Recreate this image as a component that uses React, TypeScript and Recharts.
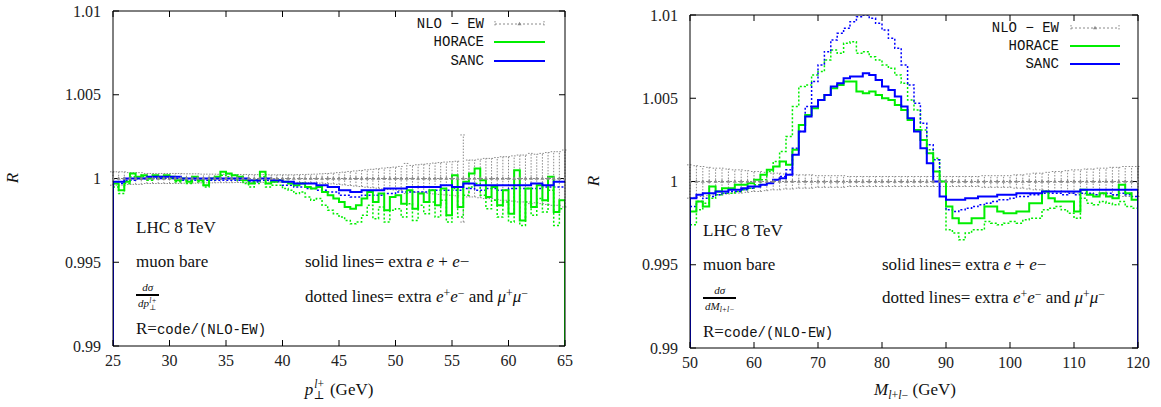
import React from 'react';
import { LineChart, Line, XAxis, YAxis, ErrorBar } from 'recharts';

const SERIF = '"Liberation Serif", "DejaVu Serif", serif';
const MONO = '"Liberation Mono", "DejaVu Sans Mono", monospace';
const GREEN = '#00ee00';
const BLUE = '#0000ff';
const GREY = '#8a8a8a';

const Y_TICKS = [0.99, 0.995, 1, 1.005, 1.01];
const Y_TICK_LABELS = ['0.99', '0.995', '1', '1.005', '1.01'];
const PT_TICKS = [25, 30, 35, 40, 45, 50, 55, 60, 65];
const M_TICKS = [50, 60, 70, 80, 90, 100, 110, 120];

// ---------- left panel: p_T(l+) ----------
const PT_START = 25;
const PT_FINE = 0.5;
const PT_COARSE = 1;
const ptHoraceSolid = [
  0.9997, 0.9993, 0.9998, 1.0003, 1.0001, 1.0002, 1.0000, 1.0002, 1.0001, 1.0002,
  1.0001, 0.9999, 1.0000, 0.9998, 1.0001, 0.9999, 0.9996, 1.0000, 1.0001, 1.0004,
  1.0003, 1.0002, 1.0001, 0.9999, 0.9997, 0.9999, 1.0004, 0.9997, 0.9998, 0.9999,
  0.9998, 0.9997, 0.9996, 0.9997, 0.9995, 0.9994, 0.9995, 0.9992, 0.9990, 0.9988,
  0.9986, 0.9983, 0.9982, 0.9984, 0.9988, 0.9992, 0.9986, 0.9991, 0.9981, 0.9989,
  0.9990, 0.9985, 0.9993, 0.9982, 0.9991, 0.9986, 0.9993, 0.9984, 0.9994, 0.9978,
  1.0002, 0.9983, 0.9998, 1.0003, 1.0006, 0.9999, 0.9989, 0.9995, 0.9984, 0.9993,
  0.9979, 1.0005, 0.9975, 0.9994, 0.9983, 0.9996, 0.9987, 1.0001, 0.9980, 0.9987,
];
const ptHoraceDotted = [
  0.9995, 0.9991, 0.9997, 1.0001, 1.0000, 1.0001, 0.9999, 1.0001, 1.0000, 1.0001,
  1.0000, 0.9998, 0.9999, 0.9997, 1.0000, 0.9998, 0.9995, 0.9999, 1.0000, 1.0002,
  1.0001, 1.0000, 0.9999, 0.9997, 0.9995, 0.9997, 1.0001, 0.9995, 0.9996, 0.9996,
  0.9994, 0.9993, 0.9991, 0.9992, 0.9989, 0.9987, 0.9988, 0.9984, 0.9981, 0.9979,
  0.9977, 0.9975, 0.9973, 0.9974, 0.9978, 0.9984, 0.9976, 0.9983, 0.9974, 0.9981,
  0.9982, 0.9977, 0.9985, 0.9975, 0.9984, 0.9979, 0.9986, 0.9977, 0.9987, 0.9974,
  0.9994, 0.9977, 0.9990, 0.9995, 0.9997, 0.9990, 0.9982, 0.9987, 0.9977, 0.9986,
  0.9974, 0.9996, 0.9972, 0.9986, 0.9978, 0.9988, 0.9980, 0.9993, 0.9972, 0.9982,
];
const ptSancSolid = [
  0.9998, 1.0000, 1.0000, 1.0001, 1.0001, 1.0001, 1.0000, 1.0000, 1.0000, 1.0000,
  1.0000, 1.0000, 0.9999, 1.0000, 0.9999, 0.9998, 0.9997, 0.9997, 0.9996, 0.9995,
  0.9993, 0.9992, 0.9993, 0.9993, 0.9994, 0.9994, 0.9995, 0.9995, 0.9995, 0.9996,
  0.9995, 0.9997, 0.9996, 0.9996, 0.9996, 0.9996, 0.9996, 0.9997, 0.9996, 0.9998,
];
const ptSancDotted = [
  0.9997, 0.9999, 1.0000, 1.0000, 1.0000, 1.0000, 0.9999, 0.9999, 0.9999, 0.9999,
  0.9999, 0.9999, 0.9998, 0.9999, 0.9998, 0.9996, 0.9995, 0.9994, 0.9993, 0.9992,
  0.9990, 0.9989, 0.9990, 0.9990, 0.9991, 0.9992, 0.9992, 0.9992, 0.9993, 0.9993,
  0.9993, 0.9994, 0.9993, 0.9994, 0.9993, 0.9994, 0.9994, 0.9994, 0.9995, 0.9995,
];
const ptNloErr = [
  0.0004, 0.0004, 0.0004, 0.00035, 0.00035, 0.00035, 0.0003, 0.0003, 0.0003, 0.0003,
  0.0003, 0.0003, 0.0003, 0.00028, 0.00028, 0.00028, 0.00026, 0.00026, 0.00026, 0.00025,
  0.00025, 0.00025, 0.00024, 0.00024, 0.00024, 0.00023, 0.00023, 0.00023, 0.00022, 0.00022,
  0.00022, 0.00022, 0.00022, 0.00023, 0.00024, 0.00025, 0.00026, 0.00028, 0.0003, 0.00032,
  0.00035, 0.00038, 0.00042, 0.00045, 0.00048, 0.00052, 0.00055, 0.00058, 0.00062, 0.00065,
  0.00068, 0.00072, 0.0009, 0.00078, 0.00082, 0.00085, 0.00088, 0.00092, 0.00095, 0.00098,
  0.001, 0.00103, 0.0026, 0.0011, 0.0011, 0.00115, 0.0012, 0.0012, 0.00125, 0.0013,
  0.0013, 0.00135, 0.0014, 0.0014, 0.0015, 0.00145, 0.0015, 0.00155, 0.0016, 0.0016,
  0.0017,
];

// ---------- right panel: M(l+l-) ----------
const M_START = 50;
const M_BIN = 1;
const mHoraceSolid = [
  0.9982, 0.9988, 0.9985, 0.9997, 0.9994, 0.9996, 0.9996, 0.9998, 0.9998, 0.9999,
  1.0001, 1.0004, 1.0007, 1.0009, 1.0012, 1.0010, 1.0019, 1.0034, 1.0040, 1.0044,
  1.0049, 1.0052, 1.0056, 1.0058, 1.0060, 1.0060, 1.0054, 1.0053, 1.0054, 1.0052,
  1.0050, 1.0049, 1.0046, 1.0043, 1.0037, 1.0031, 1.0025, 1.0017, 1.0006, 1.0000,
  0.9985, 0.9978, 0.9975, 0.9975, 0.9978, 0.9978, 0.9985, 0.9985, 0.9982, 0.9981,
  0.9981, 0.9982, 0.9982, 0.9987, 0.9987, 0.9994, 0.9990, 0.9988, 0.9988, 0.9988,
  0.9982, 0.9995, 0.9992, 0.9991, 0.9993, 0.9991, 0.9990, 0.9998, 0.9993, 0.9989,
];
const mHoraceDotted = [
  0.9974, 0.9983, 0.9987, 0.9990, 0.9992, 0.9993, 0.9993, 0.9994, 0.9995, 0.9996,
  0.9998, 1.0001, 1.0006, 1.0012, 1.0018, 1.0027, 1.0045, 1.0057, 1.0058, 1.0064,
  1.0066, 1.0073, 1.0079, 1.0077, 1.0083, 1.0084, 1.0077, 1.0078, 1.0075, 1.0073,
  1.0070, 1.0068, 1.0064, 1.0059, 1.0049, 1.0043, 1.0031, 1.0019, 1.0014, 1.0000,
  0.9971, 0.9969, 0.9965, 0.9969, 0.9971, 0.9971, 0.9976, 0.9975, 0.9974, 0.9975,
  0.9976, 0.9975, 0.9977, 0.9978, 0.9978, 0.9983, 0.9984, 0.9985, 0.9983, 0.9981,
  0.9978, 0.9990, 0.9987, 0.9986, 0.9988, 0.9987, 0.9986, 0.9988, 0.9985, 0.9984,
];
const mSancSolid = [
  0.9990, 0.9992, 0.9993, 0.9993, 0.9994, 0.9994, 0.9995, 0.9995, 0.9996, 0.9997,
  0.9997, 0.9998, 0.9999, 1.0001, 1.0002, 1.0004, 1.0016, 1.0030, 1.0039, 1.0045,
  1.0049, 1.0052, 1.0057, 1.0059, 1.0062, 1.0063, 1.0063, 1.0065, 1.0064, 1.0061,
  1.0057, 1.0055, 1.0051, 1.0045, 1.0038, 1.0030, 1.0020, 1.0011, 1.0000, 0.9991,
  0.9989, 0.9989, 0.9989, 0.9990, 0.9990, 0.9991, 0.9991, 0.9991, 0.9992, 0.9992,
  0.9992, 0.9993, 0.9993, 0.9993, 0.9993, 0.9994, 0.9994, 0.9994, 0.9994, 0.9994,
  0.9994, 0.9995, 0.9995, 0.9995, 0.9995, 0.9995, 0.9995, 0.9995, 0.9995, 0.9995,
];
const mSancDotted = [
  0.9985, 0.9988, 0.9990, 0.9991, 0.9992, 0.9993, 0.9994, 0.9994, 0.9995, 0.9996,
  0.9997, 0.9998, 0.9999, 1.0001, 1.0003, 1.0007, 1.0020, 1.0030, 1.0045, 1.0060,
  1.0070, 1.0078, 1.0085, 1.0089, 1.0092, 1.0096, 1.0099, 1.0100, 1.0098, 1.0095,
  1.0091, 1.0086, 1.0080, 1.0070, 1.0058, 1.0047, 1.0035, 1.0022, 1.0013, 1.0000,
  0.9983, 0.9982, 0.9983, 0.9984, 0.9985, 0.9986, 0.9987, 0.9988, 0.9989, 0.9989,
  0.9990, 0.9991, 0.9991, 0.9992, 0.9992, 0.9993, 0.9993, 0.9993, 0.9992, 0.9993,
  0.9992, 0.9993, 0.9993, 0.9992, 0.9993, 0.9993, 0.9992, 0.9993, 0.9992, 0.9991,
];
const mNloErr = [
  0.001, 0.00095, 0.0009, 0.00085, 0.0008, 0.0008, 0.00075, 0.0007, 0.0007, 0.00065,
  0.0006, 0.0006, 0.00055, 0.0005, 0.0005, 0.00045, 0.00045, 0.0004, 0.0004, 0.0004,
  0.00035, 0.00035, 0.00035, 0.00035, 0.00035, 0.0003, 0.0003, 0.0003, 0.0003, 0.0003,
  0.0003, 0.0003, 0.0003, 0.0003, 0.0003, 0.0003, 0.0003, 0.0003, 0.0003, 0.0003,
  0.0003, 0.0003, 0.0003, 0.0003, 0.0003, 0.0003, 0.00035, 0.00035, 0.00035, 0.00035,
  0.00035, 0.0004, 0.0004, 0.00045, 0.0005, 0.0005, 0.00055, 0.0006, 0.0006, 0.00065,
  0.0007, 0.0007, 0.00075, 0.00075, 0.0008, 0.0008, 0.00085, 0.00085, 0.0009, 0.0009,
  0.0009,
];

// histogram baseline (value 0 lies far below the visible range)
const HIST_ZERO = 0;

type Pt = { x: number; y: number; e?: number };

function histogram(start: number, width: number, vals: number[], riseAtStart: boolean, dropAtEnd: boolean): Pt[] {
  const pts: Pt[] = [];
  if (riseAtStart) pts.push({ x: start, y: HIST_ZERO });
  vals.forEach((v, i) => pts.push({ x: start + i * width, y: v }));
  const end = start + vals.length * width;
  pts.push({ x: end, y: vals[vals.length - 1] });
  if (dropAtEnd) pts.push({ x: end, y: HIST_ZERO });
  return pts;
}

function nloPoints(start: number, width: number, errs: number[]): Pt[] {
  return errs.map((e, i) => ({ x: start + i * width, y: 1, e }));
}

type SeriesDef = { name: string; data: Pt[]; color: string; dotted: boolean };

const TriDot = (p: any) => {
  if (p.cx == null || p.cy == null) return <g key={p.key ?? p.index} />;
  const { cx, cy } = p;
  return (
    <path
      key={p.key ?? p.index}
      d={`M${cx},${cy - 2.3}L${cx + 2},${cy + 1.3}L${cx - 2},${cy + 1.3}Z`}
      fill={GREY}
    />
  );
};

const yFmt = (v: number) => {
  const i = Y_TICKS.findIndex((t) => Math.abs(t - v) < 1e-9);
  return i >= 0 ? Y_TICK_LABELS[i] : String(v);
};

const tickStyle = { fill: '#222', fontFamily: SERIF, fontSize: 16 };

function Panel(props: {
  left: number;
  width: number;
  height: number;
  margin: { top: number; right: number; bottom: number; left: number };
  xDomain: [number, number];
  xTicks: number[];
  nlo: Pt[];
  series: SeriesDef[];
}) {
  const { left, width, height, margin, xDomain, xTicks, nlo, series } = props;
  return (
    <div style={{ position: 'absolute', left, top: 0, width, height }}>
      <LineChart width={width} height={height} margin={margin}>
        <XAxis
          xAxisId="b"
          type="number"
          dataKey="x"
          domain={xDomain}
          ticks={xTicks}
          interval={0}
          allowDataOverflow
          height={30}
          tickSize={-6}
          tickMargin={15}
          stroke="#000"
          tick={tickStyle}
        />
        <XAxis
          xAxisId="t"
          orientation="top"
          type="number"
          dataKey="x"
          domain={xDomain}
          ticks={xTicks}
          interval={0}
          allowDataOverflow
          height={1}
          tickSize={-6}
          tickFormatter={() => ''}
          stroke="#000"
        />
        <YAxis
          yAxisId="l"
          type="number"
          domain={[0.99, 1.01]}
          ticks={Y_TICKS}
          interval={0}
          allowDataOverflow
          width={60}
          tickSize={-6}
          tickMargin={18}
          tickFormatter={yFmt}
          stroke="#000"
          tick={tickStyle}
        />
        <YAxis
          yAxisId="r"
          orientation="right"
          type="number"
          domain={[0.99, 1.01]}
          ticks={Y_TICKS}
          interval={0}
          allowDataOverflow
          width={1}
          tickSize={-6}
          tickFormatter={() => ''}
          stroke="#000"
        />
        <Line
          xAxisId="b"
          yAxisId="l"
          data={nlo}
          dataKey="y"
          name="NLO-EW"
          type="linear"
          stroke={GREY}
          strokeWidth={1}
          strokeDasharray="2 2"
          dot={TriDot}
          activeDot={false}
          isAnimationActive={false}
        >
          <ErrorBar
            dataKey="e"
            width={3}
            stroke={GREY}
            strokeWidth={1}
            strokeDasharray="1.5 1.5"
            direction="y"
            isAnimationActive={false}
          />
        </Line>
        {series.map((s) => (
          <Line
            key={s.name}
            xAxisId="b"
            yAxisId="l"
            data={s.data}
            dataKey="y"
            name={s.name}
            type="stepAfter"
            stroke={s.color}
            strokeWidth={s.dotted ? 1.5 : 2}
            strokeDasharray={s.dotted ? '2 2' : undefined}
            dot={false}
            activeDot={false}
            isAnimationActive={false}
          />
        ))}
      </LineChart>
    </div>
  );
}

const T = (p: { x: number; y: number; children: React.ReactNode; size?: number; right?: boolean; center?: boolean; font?: string }) => {
  const w = 400;
  const left = p.right ? p.x - w : p.center ? p.x - w / 2 : p.x;
  return (
    <div
      style={{
        position: 'absolute',
        left,
        width: p.right || p.center ? w : undefined,
        textAlign: p.right ? 'right' : p.center ? 'center' : 'left',
        top: p.y - 11,
        height: 22,
        lineHeight: '22px',
        whiteSpace: 'nowrap',
        fontFamily: p.font ?? SERIF,
        fontSize: p.size ?? 17,
        color: '#111',
      }}
    >
      {p.children}
    </div>
  );
};

const it: React.CSSProperties = { fontStyle: 'italic' };
const sup: React.CSSProperties = { fontSize: '0.7em', verticalAlign: '0.45em', lineHeight: 0 };
const sub: React.CSSProperties = { fontSize: '0.7em', verticalAlign: '-0.3em', lineHeight: 0 };

// stacked super/subscript (e.g. p_⊥^{l+})
const Scripts = (p: { up: React.ReactNode; down: React.ReactNode }) => (
  <span
    style={{
      display: 'inline-flex',
      flexDirection: 'column',
      verticalAlign: 'middle',
      fontSize: '0.68em',
      lineHeight: '0.95em',
      marginLeft: '0.05em',
      marginRight: '0.1em',
      position: 'relative',
      top: '-0.1em',
    }}
  >
    <span>{p.up}</span>
    <span>{p.down}</span>
  </span>
);

const Frac = (p: { x: number; y: number; den: React.ReactNode }) => (
  <div
    style={{
      position: 'absolute',
      left: p.x,
      top: p.y - 16,
      display: 'inline-flex',
      flexDirection: 'column',
      alignItems: 'center',
      fontFamily: SERIF,
      fontSize: 11,
      lineHeight: '13px',
      color: '#111',
    }}
  >
    <span style={{ ...it, padding: '0 4px' }}>dσ</span>
    <span style={{ borderTop: '2px solid #000', ...it, padding: '1px 2px 0', whiteSpace: 'nowrap' }}>{p.den}</span>
  </div>
);

const LegendBlock = (p: { textRight: number; lineX: number; lineW: number; ys: number[] }) => (
  <>
    <T x={p.textRight} y={p.ys[0]} right font={MONO} size={14}>NLO − EW</T>
    <T x={p.textRight} y={p.ys[1]} right font={MONO} size={14}>HORACE</T>
    <T x={p.textRight} y={p.ys[2]} right font={MONO} size={14}>SANC</T>
    <svg style={{ position: 'absolute', left: p.lineX, top: p.ys[0] - 5 }} width={p.lineW} height={60}>
      <line x1={1} x2={p.lineW - 1} y1={5} y2={5} stroke={GREY} strokeWidth={1} strokeDasharray="2 2" />
      <line x1={1} x2={1} y1={2} y2={8} stroke={GREY} strokeWidth={1} strokeDasharray="1.5 1.5" />
      <line x1={p.lineW - 1} x2={p.lineW - 1} y1={2} y2={8} stroke={GREY} strokeWidth={1} strokeDasharray="1.5 1.5" />
      <path d={`M${p.lineW / 2},${2.7}L${p.lineW / 2 + 2},${6.3}L${p.lineW / 2 - 2},${6.3}Z`} fill={GREY} />
      <line x1={0} x2={p.lineW} y1={5 + (p.ys[1] - p.ys[0])} y2={5 + (p.ys[1] - p.ys[0])} stroke={GREEN} strokeWidth={2} />
      <line x1={0} x2={p.lineW} y1={5 + (p.ys[2] - p.ys[0])} y2={5 + (p.ys[2] - p.ys[0])} stroke={BLUE} strokeWidth={2} />
    </svg>
  </>
);

const RLabel = (p: { x: number; y: number }) => (
  <div
    style={{
      position: 'absolute',
      left: p.x - 10,
      top: p.y - 10,
      width: 20,
      height: 20,
      lineHeight: '20px',
      textAlign: 'center',
      transform: 'rotate(-90deg)',
      fontFamily: SERIF,
      fontStyle: 'italic',
      fontSize: 17,
      color: '#111',
    }}
  >
    R
  </div>
);

const DottedText = () => (
  <>
    dotted lines= extra <span style={it}>e</span><span style={sup}>+</span><span style={it}>e</span><span style={sup}>−</span> and{' '}
    <span style={it}>μ</span><span style={sup}>+</span><span style={it}>μ</span><span style={sup}>−</span>
  </>
);

const SolidText = () => (
  <>
    solid lines= extra <span style={it}>e</span> + <span style={it}>e</span>−
  </>
);

export default function App() {
  const leftSeries: SeriesDef[] = [
    { name: 'HORACE dotted', data: histogram(PT_START, PT_FINE, ptHoraceDotted, false, false), color: GREEN, dotted: true },
    { name: 'SANC dotted', data: histogram(PT_START, PT_COARSE, ptSancDotted, false, false), color: BLUE, dotted: true },
    { name: 'HORACE', data: histogram(PT_START, PT_FINE, ptHoraceSolid, true, true), color: GREEN, dotted: false },
    { name: 'SANC', data: histogram(PT_START, PT_COARSE, ptSancSolid, true, false), color: BLUE, dotted: false },
  ];
  const rightSeries: SeriesDef[] = [
    { name: 'HORACE dotted', data: histogram(M_START, M_BIN, mHoraceDotted, false, false), color: GREEN, dotted: true },
    { name: 'SANC dotted', data: histogram(M_START, M_BIN, mSancDotted, false, false), color: BLUE, dotted: true },
    { name: 'HORACE', data: histogram(M_START, M_BIN, mHoraceSolid, true, false), color: GREEN, dotted: false },
    { name: 'SANC', data: histogram(M_START, M_BIN, mSancSolid, true, true), color: BLUE, dotted: false },
  ];

  return (
    <div style={{ position: 'absolute', left: 0, top: 0, width: 1161, height: 407, background: '#fff', overflow: 'hidden' }}>
      <Panel
        left={0}
        width={580}
        height={407}
        margin={{ top: 10, right: 14, bottom: 31, left: 53 }}
        xDomain={[25, 65]}
        xTicks={PT_TICKS}
        nlo={nloPoints(PT_START, PT_FINE, ptNloErr)}
        series={leftSeries}
      />
      <Panel
        left={580}
        width={581}
        height={407}
        margin={{ top: 14, right: 22, bottom: 29, left: 50 }}
        xDomain={[50, 120]}
        xTicks={M_TICKS}
        nlo={nloPoints(M_START, M_BIN, mNloErr)}
        series={rightSeries}
      />

      {/* left panel annotations */}
      <LegendBlock textRight={484} lineX={494} lineW={51} ys={[24, 42, 61]} />
      <RLabel x={13} y={178} />
      <T x={136} y={228}>LHC 8 TeV</T>
      <T x={136} y={262}>muon bare</T>
      <Frac x={136} y={297} den={<>dp<Scripts up={<>l+</>} down="⊥" /></>} />
      <T x={136} y={329}>R=<span style={{ fontFamily: MONO, fontSize: 14 }}>code/(NLO-EW)</span></T>
      <T x={305} y={262}><SolidText /></T>
      <T x={305} y={297}><DottedText /></T>
      <T x={339} y={390} center>
        <span style={it}>p</span><Scripts up={<><span style={it}>l</span>+</>} down="⊥" /> (GeV)
      </T>

      {/* right panel annotations */}
      <LegendBlock textRight={1059} lineX={1070} lineW={50} ys={[28, 46, 64]} />
      <RLabel x={594} y={181} />
      <T x={703} y={231}>LHC 8 TeV</T>
      <T x={703} y={265}>muon bare</T>
      <Frac x={703} y={300} den={<>dM<span style={sub}><span style={it}>l</span>+<span style={it}>l</span>−</span></>} />
      <T x={703} y={332}>R=<span style={{ fontFamily: MONO, fontSize: 14 }}>code/(NLO-EW)</span></T>
      <T x={882} y={265}><SolidText /></T>
      <T x={882} y={298}><DottedText /></T>
      <T x={915} y={390} center>
        <span style={it}>M</span><span style={sub}><span style={it}>l</span>+<span style={it}>l</span>−</span> (GeV)
      </T>
    </div>
  );
}
